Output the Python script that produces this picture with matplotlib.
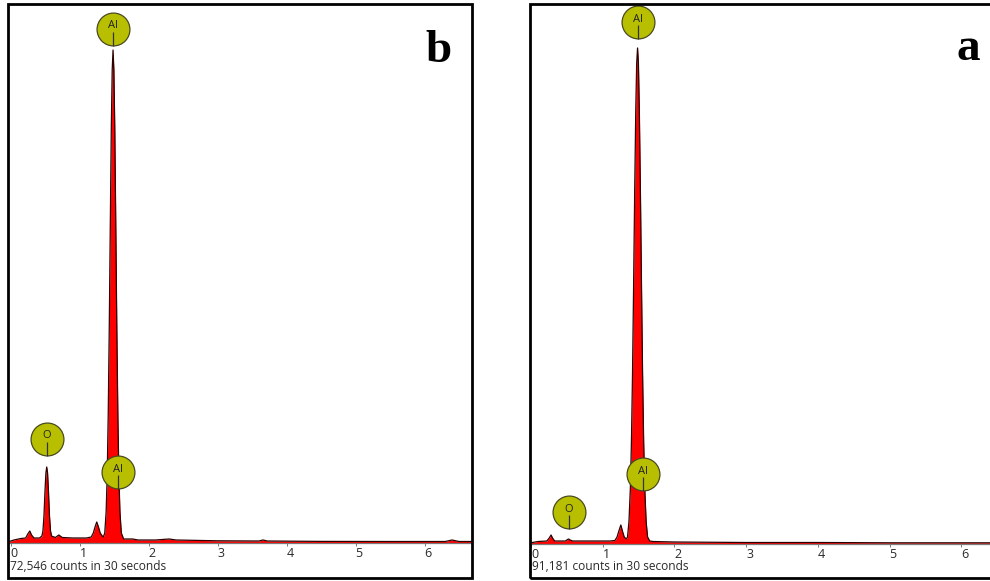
import matplotlib.pyplot as plt
from matplotlib.patches import Rectangle
from matplotlib.transforms import offset_copy

# EDS spectra, energy in keV, counts per channel
energy_b = [-0.04, 0.05, 0.15, 0.22, 0.25, 0.28, 0.305, 0.34, 0.42,
            0.455, 0.47, 0.485, 0.50, 0.513, 0.525, 0.537, 0.55, 0.565, 0.58, 0.595,
            0.65, 0.70, 0.75, 0.9, 1.1, 1.17, 1.20, 1.225, 1.25, 1.275, 1.30, 1.33, 1.345,
            1.366, 1.386, 1.401, 1.416, 1.431, 1.446, 1.461, 1.474, 1.486, 1.498, 1.511,
            1.526, 1.541, 1.556, 1.571, 1.586, 1.606, 1.64,
            1.77, 1.85, 2.1, 2.3, 2.4, 3.0, 3.6, 3.66, 3.72, 4.5, 5.5, 6.3, 6.4, 6.5, 6.7]
counts_b = [20, 60, 90, 100, 180, 240, 160, 100, 100,
            140, 240, 540, 1040, 1400, 1520, 1400, 1040, 540, 240, 140,
            110, 160, 110, 100, 100, 120, 200, 320, 420, 320, 200, 140, 120,
            200, 620, 1320, 2540, 4260, 6320, 8320, 9460, 9860, 9460, 8320,
            6320, 4260, 2540, 1320, 620, 200, 80,
            80, 60, 60, 80, 60, 44, 40, 60, 40, 32, 30, 30, 60, 30, 30]

energy_a = [-0.02, 0.10, 0.22, 0.255, 0.28, 0.30, 0.33, 0.40,
            0.48, 0.51, 0.525, 0.545, 0.58, 0.8, 1.1,
            1.17, 1.20, 1.23, 1.253, 1.275, 1.30, 1.33,
            1.346, 1.366, 1.386, 1.401, 1.416, 1.431, 1.446, 1.461, 1.474, 1.486,
            1.498, 1.511, 1.526, 1.541, 1.556, 1.571, 1.586, 1.606, 1.626, 1.656,
            1.7, 2.0, 3.0, 4.0, 5.0, 6.0, 6.5]
counts_a = [20, 50, 60, 120, 180, 120, 60, 60,
            60, 90, 100, 80, 60, 60, 60,
            70, 140, 280, 380, 260, 140, 100,
            140, 440, 1120, 2060, 3420, 5160, 7040, 8660, 9620, 9920,
            9620, 8660, 7040, 5160, 3420, 2060, 1120, 440, 140, 60,
            50, 40, 30, 30, 24, 24, 24]

ticks = [0, 1, 2, 3, 4, 5, 6]
caption_b = "72,546 counts in 30 seconds"
caption_a = "91,181 counts in 30 seconds"

# element markers: (symbol, line energy keV)
markers_b = [("Al", 1.486), ("Al", 1.557), ("O", 0.525)]
markers_a = [("Al", 1.486), ("Al", 1.557), ("O", 0.525)]

W, H = 990, 581
fig = plt.figure(figsize=(9.9, 5.81), dpi=100)
fig.patch.set_facecolor("white")

def box(x0, y0, x1, y1):
    return [x0 / W, 1 - y1 / H, (x1 - x0) / W, (y1 - y0) / H]

def panel(frame, baseline, x_zero, kev_px, energy, counts, markers, marker_px,
          caption, letter, letter_xy):
    fx0, fy0, fx1, fy1 = frame
    ax = fig.add_axes(box(fx0, fy0, fx1, baseline))
    ax.set_xlim((fx0 - x_zero) / kev_px, (fx1 - x_zero) / kev_px)
    ax.set_ylim(0, (baseline - fy0) * 20)
    ax.set_facecolor("none")

    ax.fill_between(energy, counts, 0, color="#ff0000", lw=0, zorder=2)
    ax.plot(energy, counts, color="#2a0000", lw=0.9, zorder=3)

    for s in ["top", "left", "right"]:
        ax.spines[s].set_visible(False)
    ax.spines["bottom"].set_color("#7a7a7a")
    ax.spines["bottom"].set_linewidth(0.9)
    ax.set_yticks([])
    ax.set_xticks(ticks)
    ax.set_xticklabels([str(t) for t in ticks])
    ax.tick_params(axis="x", direction="out", length=2.5, width=0.7,
                   color="#7a7a7a", pad=0.5, labelsize=9, labelcolor="#2a2a2a")
    for lbl in ax.get_xticklabels():
        lbl.set_horizontalalignment("left")
        lbl.set_fontfamily("Open Sans")

    # element label circles
    for (sym, e), h in zip(markers, marker_px):
        y = h * 20
        ax.scatter([e], [y], s=560, color="#b8bf00", edgecolors="#4a4a20",
                   linewidths=0.9, zorder=6, clip_on=False)
        ax.text(e, y, sym, transform=offset_copy(ax.transData, fig, 0, 3, units="dots"),
                ha="center", va="center", fontsize=8, color="#222222",
                family="Open Sans", zorder=7)
        ax.plot([e], [y], marker="|", markersize=9.4, mew=0.9, color="#333333",
                transform=offset_copy(ax.transData, fig, 0, -9.5, units="dots"),
                zorder=7, clip_on=False)

    fig.text((fx0 + 2) / W, 1 - 567 / H, caption, ha="left", va="center",
             fontsize=8.6, color="#2a2a2a", family="Open Sans")
    fig.text(letter_xy[0] / W, 1 - letter_xy[1] / H, letter, ha="center",
             va="baseline", fontsize=34, fontweight="bold", family="Liberation Serif")
    fig.patches.append(Rectangle((fx0 / W, 1 - fy1 / H), (fx1 - fx0) / W,
                                 (fy1 - fy0) / H, transform=fig.transFigure,
                                 fill=False, edgecolor="black", lw=2.0, zorder=10))

panel((8, 4, 472, 578), 543, 10.5, 69.0, energy_b, counts_b, markers_b,
      [514, 71, 104], caption_b, "b", (439, 62))
panel((530, 4, 995, 578), 544, 531.0, 71.7, energy_a, counts_a, markers_a,
      [522, 70, 32], caption_a, "a", (968, 60))

fig.savefig("out.png", dpi=100)
